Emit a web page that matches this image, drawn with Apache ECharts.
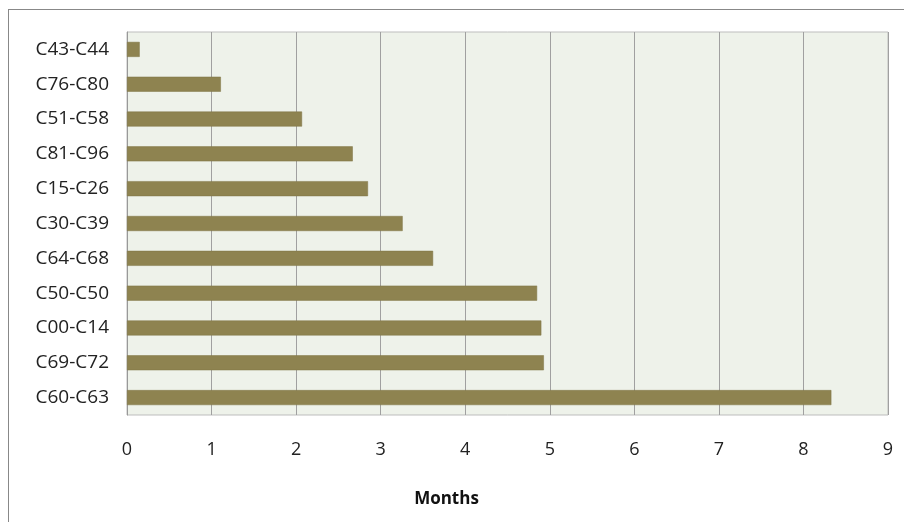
<!DOCTYPE html>
<html><head><meta charset="utf-8">
<script src="https://cdn.jsdelivr.net/npm/echarts@6/dist/echarts.min.js"></script>
<style>
html,body{margin:0;padding:0;background:#fff;}
#frame{position:absolute;left:8px;top:9px;width:1000px;height:600px;border:1px solid #888;box-sizing:border-box;}
#c{position:absolute;left:0;top:0;width:904px;height:522px;}
</style></head>
<body>
<div id="frame"></div>
<div id="c"></div>
<script>
const categories = ['C43-C44','C76-C80','C51-C58','C81-C96','C15-C26','C30-C39','C64-C68','C50-C50','C00-C14','C69-C72','C60-C63'];
const months = [0.15, 1.11, 2.07, 2.67, 2.85, 3.26, 3.62, 4.85, 4.90, 4.93, 8.33];
const xTicks = [0,1,2,3,4,5,6,7,8,9];
const axisTitle = 'Months';

const chart = echarts.init(document.getElementById('c'), null, {renderer:'canvas'});
chart.setOption({
  animation:false,
  backgroundColor:'transparent',
  grid:{left:127, right:16, top:32, bottom:107, show:true, backgroundColor:'#eef2ea', borderColor:'#bdbdbd', borderWidth:1},
  xAxis:{
    type:'value', min:xTicks[0], max:xTicks[xTicks.length-1], interval:1,
    axisLine:{show:false}, axisTick:{show:false},
    splitLine:{show:true, lineStyle:{color:'#a0a0a0', width:1}},
    axisLabel:{color:'#222', fontFamily:'Open Sans', fontSize:18, margin:26},
    name:axisTitle, nameLocation:'middle', nameGap:76,
    nameTextStyle:{fontFamily:'Open Sans', fontWeight:'bold', fontSize:17, color:'#111', padding:[0,122,0,0]}
  },
  yAxis:{
    type:'category', data:categories, inverse:true,
    axisLine:{show:true, lineStyle:{color:'#999'}}, axisTick:{show:false},
    axisLabel:{color:'#222', fontFamily:'Open Sans', fontSize:19, margin:18}
  },
  series:[{
    type:'bar', data:months, barWidth:15,
    itemStyle:{color:'#8e8350', borderColor:'#7f7545', borderWidth:0.5}
  }]
});
</script>
</body></html>
